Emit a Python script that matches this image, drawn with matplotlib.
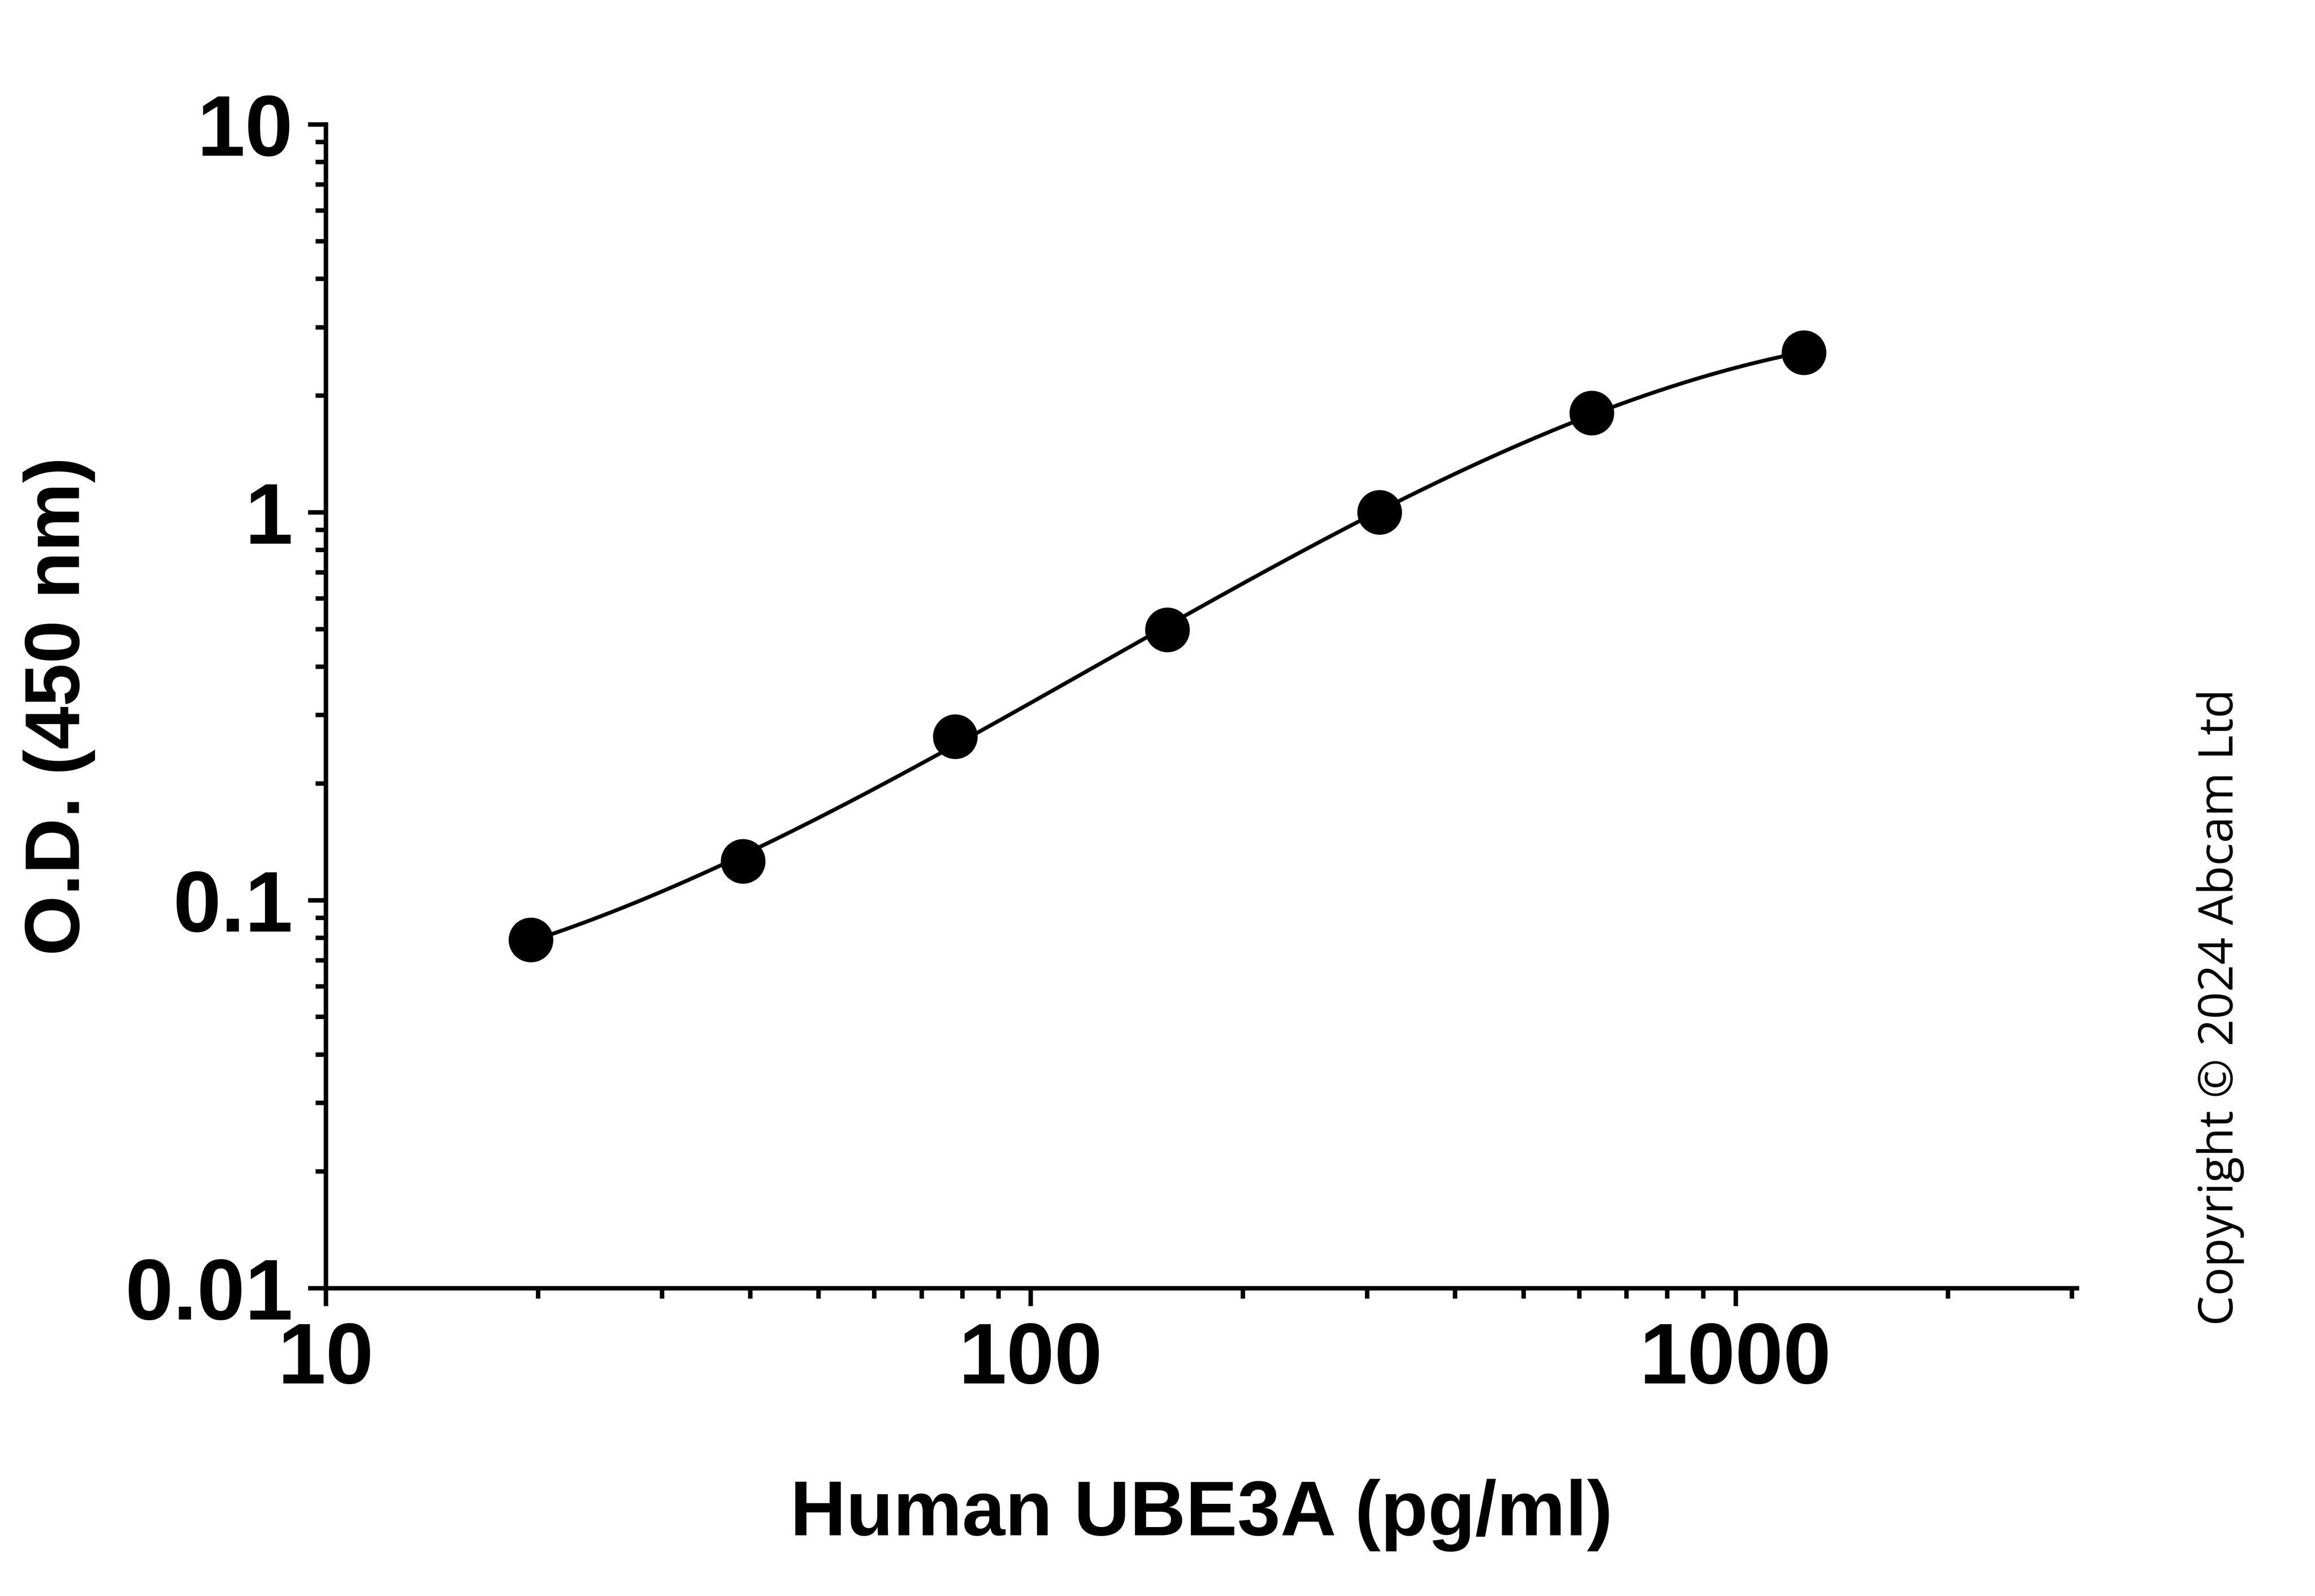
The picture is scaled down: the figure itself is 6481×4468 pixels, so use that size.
import numpy as np
import matplotlib
matplotlib.use("Agg")
import matplotlib.pyplot as plt
from matplotlib.ticker import LogLocator, NullFormatter

conc = [19.53, 39.06, 78.125, 156.25, 312.5, 625, 1250]
od = [0.079, 0.126, 0.264, 0.497, 1.0, 1.80, 2.58]
xticks = [10, 100, 1000]
xticklabels = ["10", "100", "1000"]
yticks = [0.01, 0.1, 1, 10]
yticklabels = ["0.01", "0.1", "1", "10"]

plt.rcParams["font.family"] = "Liberation Sans"
fig = plt.figure(figsize=(10.803, 7.448), dpi=600)
ax = fig.add_axes([0.1407, 0.193, 0.7563, 0.729])

lx, ly = np.log10(conc), np.log10(od)
coef = np.polyfit(lx, ly, 3)
xs = np.linspace(lx[0], lx[-1], 300)
ax.plot(10**xs, 10**np.polyval(coef, xs), color="black", lw=1.3)
ax.plot(conc, od, "o", color="black", ms=14, mec="black")

ax.set_xscale("log"); ax.set_yscale("log")
ax.set_xlim(10, 3050); ax.set_ylim(0.01, 10)
ax.set_xticks(xticks); ax.set_xticklabels(xticklabels)
ax.set_yticks(yticks); ax.set_yticklabels(yticklabels)
ax.xaxis.set_minor_locator(LogLocator(base=10, subs=np.arange(2, 10)))
ax.yaxis.set_minor_locator(LogLocator(base=10, subs=np.arange(2, 10)))
ax.xaxis.set_minor_formatter(NullFormatter()); ax.yaxis.set_minor_formatter(NullFormatter())
for s in ["top", "right"]:
    ax.spines[s].set_visible(False)
for s in ["left", "bottom"]:
    ax.spines[s].set_linewidth(1.5)
ax.tick_params(which="major", length=6, width=1.5, labelsize=29, pad=5)
ax.tick_params(which="minor", length=3.5, width=1.5)
for t in ax.get_xticklabels() + ax.get_yticklabels():
    t.set_fontweight("bold")
ax.set_xlabel("Human UBE3A (pg/ml)", fontsize=26, fontweight="bold", labelpad=26)
ax.set_ylabel("O.D. (450 nm)", fontsize=26, fontweight="bold", labelpad=10)
fig.text(0.959, 0.369, "Copyright © 2024 Abcam Ltd", rotation=90, fontsize=16,
         family="Open Sans", ha="center", va="center")
fig.savefig("out.png", dpi=600)
